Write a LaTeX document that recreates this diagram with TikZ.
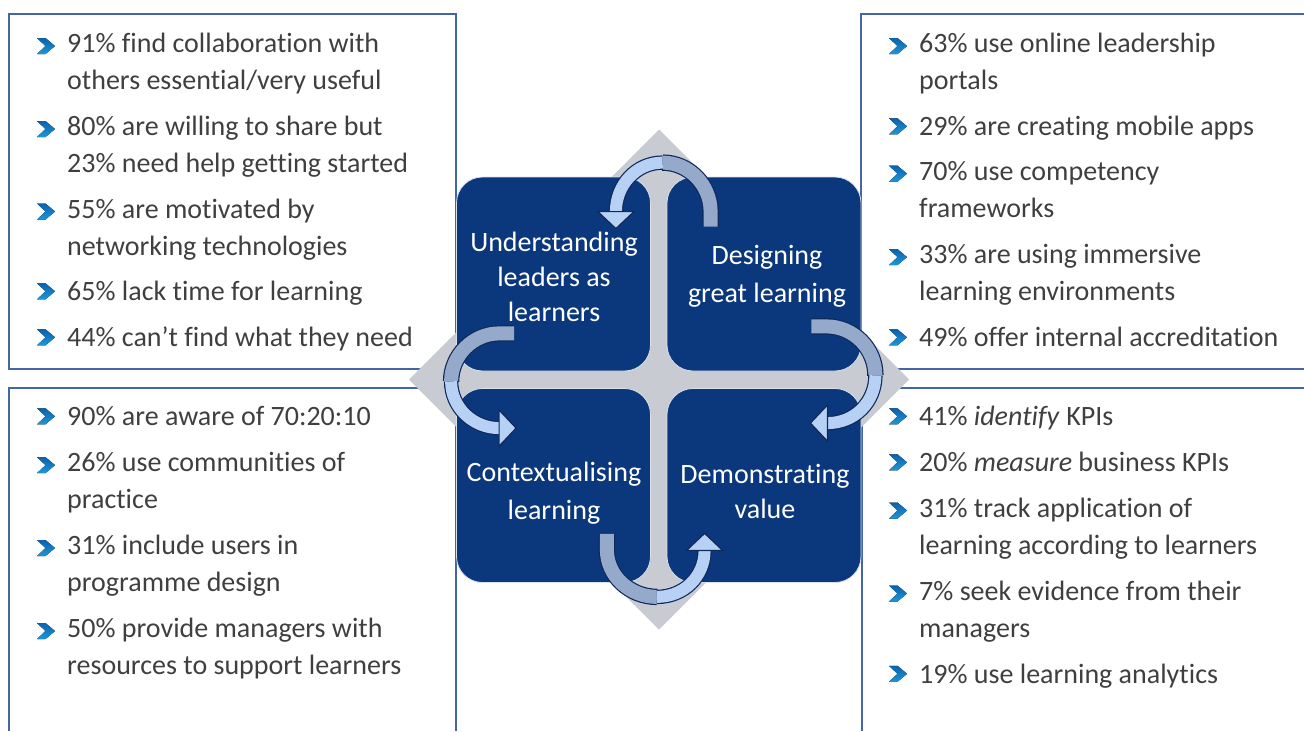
\documentclass[tikz,border=0pt]{standalone}
\usepackage{fontspec}
\setmainfont[Ligatures=NoCommon]{Carlito}
\usetikzlibrary{calc}

\definecolor{panelblue}{HTML}{4466A6}
\definecolor{textgray}{HTML}{3F3F3F}
\definecolor{quadblue}{HTML}{0B387C}
\definecolor{crossgray}{HTML}{C9CBD3}
\definecolor{ribdark}{HTML}{95AACA}
\definecolor{riblight}{HTML}{B7D1F5}
\definecolor{ribedge}{HTML}{10295A}
\definecolor{chevtop}{HTML}{0A62AE}
\definecolor{chevbot}{HTML}{1E96D8}

\tikzset{
  panel/.style={draw=panelblue, line width=1.2pt},
  quad/.style={rectangle, rounded corners=26pt, minimum width=194pt, minimum height=194pt, inner sep=0pt, fill=quadblue, draw=white!85!quadblue, line width=0.8pt},
  quadtext/.style={align=center, inner sep=0pt, text=white, font=\fontsize{28}{35}\selectfont, execute at begin node=\strut, execute at end node=\strut},
  item/.style={anchor=west, align=left, inner sep=0pt, text=textgray, font=\fontsize{28}{37}\selectfont, execute at begin node=\strut, execute at end node=\strut},
  ribback/.style={draw=ribedge, line width=1.2pt, double=ribdark, double distance=14pt},
  ribfront/.style={draw=ribedge, line width=1.2pt, double=riblight, double distance=12pt},
  ribhead/.style={draw=ribedge, line width=1.2pt, fill=riblight, line join=miter},
  chev/.pic={\fill[top color=chevtop, bottom color=chevbot] (-9,-8) -- (-0.5,-8) -- (9,0) -- (-0.5,8) -- (-9,8) -- (-0.5,0) -- cycle;}
}

\begin{document}
\begin{tikzpicture}[x=1pt, y=-1pt]
\useasboundingbox (0,0) rectangle (1304,731);

% side panels
\draw[panel] (9,14) rectangle (456,369);
\draw[panel] (9,731) -- (9,388) -- (456,388) -- (456,731);
\draw[panel] (1304,14) -- (861,14) -- (861,369) -- (1304,369);
\draw[panel] (1304,388) -- (862,388) -- (862,731);

% grey diamond behind the four quadrants
\coordinate (mid) at (659,379.5);
\fill[crossgray] ($(mid)+(0,-250)$) -- ($(mid)+(250,0)$) -- ($(mid)+(0,250)$) -- ($(mid)+(-250,0)$) -- cycle;

\node[quad] (ul) at (553.5,274) {};
\node[quad] (ur) at (764,274) {};
\node[quad] (ll) at (553.5,485.5) {};
\node[quad] (lr) at (764,485.5) {};

\node[quadtext] (ultext) at ($(ul)+(0.5,8.5)$) {Understanding\\leaders as\\learners};
\node[quadtext] (urtext) at ($(ur)+(3,5.5)$) {Designing\\[3pt]great learning};
\node[quadtext] (lltext) at ($(ll)+(0.5,11)$) {Contextualising\\[3pt]learning};
\node[quadtext] (lrtext) at ($(lr)+(1,11)$) {Demonstrating\\value};

% top left list
\node[item] (a1) at (67,67) {91\% find collaboration with\\others essential/very useful};
\node[item] (a2) at (67,150) {80\% are willing to share but\\23\% need help getting started};
\node[item] (a3) at (67,232.5) {55\% are motivated by\\networking technologies};
\node[item] (a4) at (67,293.5) {65\% lack time for learning};
\node[item] (a5) at (67,339.5) {44\% can’t find what they need};

% top right list
\node[item] (b1) at (919,67) {63\% use online leadership\\portals};
\node[item] (b2) at (919,128.5) {29\% are creating mobile apps};
\node[item] (b3) at (919,194.5) {70\% use competency\\frameworks};
\node[item] (b4) at (919,278) {33\% are using immersive\\learning environments};
\node[item] (b5) at (919,339.5) {49\% offer internal accreditation};

% bottom left list
\node[item] (c1) at (67,418.5) {90\% are aware of 70:20:10};
\node[item] (c2) at (67,486) {26\% use communities of\\practice};
\node[item] (c3) at (67,569) {31\% include users in\\programme design};
\node[item] (c4) at (67,652) {50\% provide managers with\\resources to support learners};

% bottom right list
\node[item] (d1) at (919,418.5) {41\% \textit{identify} KPIs};
\node[item] (d2) at (919,464.5) {20\% \textit{measure} business KPIs};
\node[item] (d3) at (919,531.5) {31\% track application of\\learning according to learners};
\node[item] (d4) at (919,614.5) {7\% seek evidence from their\\managers};
\node[item] (d5) at (919,676) {19\% use learning analytics};

\foreach \n in {a1,a2,a3,b1,b3,b4,c2,c3,c4,d3,d4}
  \pic at ($(\n.north west)+(-21,13)$) {chev};
\foreach \n in {a4,a5,b2,b5,c1,d1,d2,d5}
  \pic at ($(\n.north west)+(-21,16.5)$) {chev};

% top arrow, designing -> understanding
\coordinate (t1) at ($(ur.north west)+(44,50)$);
\coordinate (h1) at ($(ul.north east)+(-35,35)$);
\draw[ribback] (t1) -- ++(0,-15) .. controls +(0,-27) and +(26,0) .. ++(-48,-49) coordinate (m1);
\draw[ribfront] (m1) .. controls +(-26,0) and +(0,-27) .. (h1);
\filldraw[ribhead] ($(h1)+(-18,0)$) -- ($(h1)+(18,0)$) -- ($(h1)+(0,17)$) -- cycle;

% right arrow, designing -> demonstrating
\coordinate (t2) at ($(ur.south east)+(-50,-45)$);
\coordinate (h2) at ($(lr.north east)+(-34,35)$);
\draw[ribback] (t2) -- ++(15,0) .. controls +(27,0) and +(0,-27) .. ++(49,49) coordinate (m2);
\draw[ribfront] (m2) .. controls +(0,27) and +(27,0) .. (h2);
\filldraw[ribhead] ($(h2)+(0,-18)$) -- ($(h2)+(0,18)$) -- ($(h2)+(-17,0)$) -- cycle;

% left arrow, understanding -> contextualising
\coordinate (t3) at ($(ul.south west)+(58,-38)$);
\coordinate (h3) at ($(ll.north west)+(43,40)$);
\draw[ribback] (t3) -- ++(-15,0) .. controls +(-26,0) and +(0,-26) .. ++(-48,48) coordinate (m3);
\draw[ribfront] (m3) .. controls +(0,26) and +(-26,0) .. (h3);
\filldraw[ribhead] ($(h3)+(0,-18)$) -- ($(h3)+(0,18)$) -- ($(h3)+(17,0)$) -- cycle;

% bottom arrow, contextualising -> demonstrating
\coordinate (t4) at ($(ll.south east)+(-44,-49)$);
\coordinate (h4) at ($(lr.south west)+(38,-32.5)$);
\draw[ribback] (t4) -- ++(0,16) .. controls +(0,26) and +(-27,0) .. ++(50,47) coordinate (m4);
\draw[ribfront] (m4) .. controls +(27,0) and +(0,26) .. (h4);
\filldraw[ribhead] ($(h4)+(-18,0)$) -- ($(h4)+(18,0)$) -- ($(h4)+(0,-17)$) -- cycle;
\end{tikzpicture}
\end{document}
